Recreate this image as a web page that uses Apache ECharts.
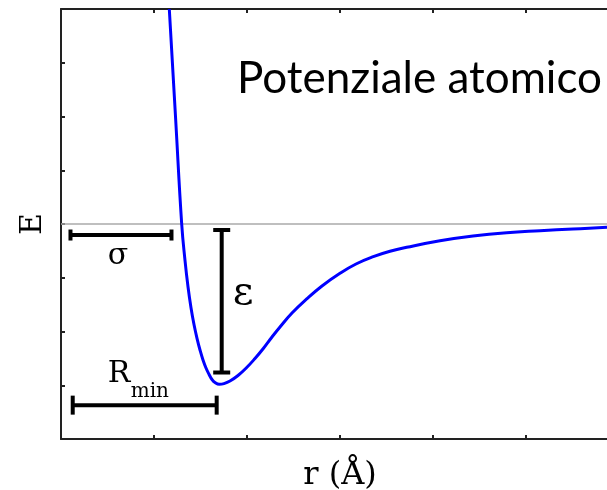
<!DOCTYPE html>
<html>
<head>
<meta charset="utf-8">
<script src="https://cdn.jsdelivr.net/npm/echarts@6/dist/echarts.min.js"></script>
<style>html,body{margin:0;padding:0;background:#fff}#c{width:607px;height:490px}</style>
</head>
<body>
<div id="c"></div>
<script>
// Potential curve (r and E in tick units)
const rValues = [1.1645, 1.2333, 1.2978, 1.3333, 1.3656, 1.3978, 1.4301, 1.4624, 1.4946, 1.5269, 1.5591, 1.5914, 1.6237, 1.6559, 1.7022,
  1.7527, 1.8172, 1.9032, 1.9968, 2.0860, 2.1753, 2.2688, 2.3548, 2.4839, 2.6419, 2.8065, 3.0, 3.172, 3.358, 3.5376, 3.717,
  4.075, 4.430, 4.792, 5.151, 5.505, 5.871];
const eValues = [4.0, 1.935, 0.0, -0.675, -1.1665, -1.557, -1.870, -2.127, -2.344, -2.530, -2.679, -2.796, -2.893, -2.949, -2.982,
  -2.969, -2.921, -2.819, -2.670, -2.502, -2.316, -2.102, -1.916, -1.656, -1.395, -1.153, -0.917, -0.744, -0.608, -0.508, -0.434,
  -0.311, -0.223, -0.162, -0.125, -0.093, -0.061];

// Dimension bars: [x1, y1, x2, y2]
const sigmaBar = [0.102, -0.205, 1.188, -0.205];
const rminBar = [0.126, -3.37, 1.674, -3.37];
const epsBar = [1.728, -0.112, 1.728, -2.763];
const barLabels = ['σ', 'R', 'ε'];

const xTicks = {min: 0, max: 6, interval: 1};
const yTicks = {min: -4, max: 4, interval: 1};

const curve = rValues.map((r, i) => [r, eValues[i]]);
const bars = [sigmaBar, rminBar, epsBar];

const chart = echarts.init(document.getElementById('c'), null, {renderer: 'canvas'});
const serif = '"DejaVu Serif", "Liberation Serif", serif';
const axisStyle = {lineStyle: {color: '#222', width: 2}};
const capHalf = [5.5, 9.5, 8.5];

chart.setOption({
  animation: false,
  backgroundColor: '#fff',
  grid: {left: 61, top: 9, width: 558, height: 430, containLabel: false, outerBoundsMode: 'none'},
  xAxis: [
    {type: 'value', position: 'bottom', min: xTicks.min, max: xTicks.max, interval: xTicks.interval,
     axisLine: Object.assign({show: true, onZero: false}, axisStyle),
     axisTick: {show: true, inside: true, length: 4, lineStyle: {color: '#222', width: 2}},
     axisLabel: {show: false}, splitLine: {show: false},
     name: 'r (Å)', nameLocation: 'middle', nameGap: 21,
     nameTextStyle: {fontFamily: serif, fontSize: 32, color: '#000'}},
    {type: 'value', position: 'top', min: xTicks.min, max: xTicks.max, interval: xTicks.interval,
     axisLine: Object.assign({show: true, onZero: false}, axisStyle),
     axisTick: {show: true, inside: true, length: 4, lineStyle: {color: '#222', width: 2}},
     axisLabel: {show: false}, splitLine: {show: false}}
  ],
  yAxis: [
    {type: 'value', min: yTicks.min, max: yTicks.max, interval: yTicks.interval,
     axisLine: Object.assign({show: true, onZero: false}, axisStyle),
     axisTick: {show: true, inside: true, length: 4, lineStyle: {color: '#222', width: 2}},
     axisLabel: {show: false}, splitLine: {show: false},
     name: 'E', nameLocation: 'middle', nameGap: 13, nameRotate: 90,
     nameTextStyle: {fontFamily: serif, fontSize: 30, color: '#000'}}
  ],
  graphic: [
    {type: 'text', left: 237, top: 57, z: 10,
     style: {text: 'Potenziale atomico', font: '44px Lato', fill: '#000'}}
  ],
  series: [
    {type: 'line', data: curve, showSymbol: false, smooth: 0.45, clip: true,
     lineStyle: {color: '#0000ff', width: 3}, z: 5,
     markLine: {silent: true, symbol: 'none', label: {show: false},
       lineStyle: {color: '#aaaaaa', width: 1.5, type: 'solid'},
       data: [{yAxis: 0}]}},
    {type: 'custom', data: bars, z: 6,
     renderItem: function (params, api) {
       const i = params.dataIndex;
       const p1 = api.coord([api.value(0), api.value(1)]);
       const p2 = api.coord([api.value(2), api.value(3)]);
       const h = capHalf[i];
       const horiz = Math.abs(p1[1] - p2[1]) < 1;
       const st = {stroke: '#000', lineWidth: 4};
       const kids = [
         {type: 'line', shape: {x1: p1[0], y1: p1[1], x2: p2[0], y2: p2[1]}, style: st},
         horiz ? {type: 'line', shape: {x1: p1[0], y1: p1[1] - h, x2: p1[0], y2: p1[1] + h}, style: st}
               : {type: 'line', shape: {x1: p1[0] - h, y1: p1[1], x2: p1[0] + h, y2: p1[1]}, style: st},
         horiz ? {type: 'line', shape: {x1: p2[0], y1: p2[1] - h, x2: p2[0], y2: p2[1] + h}, style: st}
               : {type: 'line', shape: {x1: p2[0] - h, y1: p2[1], x2: p2[0] + h, y2: p2[1]}, style: st}
       ];
       if (i === 0) {
         kids.push({type: 'text', style: {text: barLabels[0], x: (p1[0] + p2[0]) / 2 - 3, y: p1[1] + 21,
           font: '30px ' + serif, fill: '#000', align: 'center', verticalAlign: 'middle'}});
       } else if (i === 1) {
         kids.push({type: 'text', style: {text: barLabels[1], x: p1[0] + 35, y: p1[1] - 31,
           font: '30px ' + serif, fill: '#000', align: 'left', verticalAlign: 'middle'}});
         kids.push({type: 'text', style: {text: 'min', x: p1[0] + 58, y: p1[1] - 13,
           font: '20px ' + serif, fill: '#000', align: 'left', verticalAlign: 'middle'}});
       } else {
         kids.push({type: 'text', style: {text: barLabels[2], x: p1[0] + 11, y: (p1[1] + p2[1]) / 2 - 8,
           font: '40px ' + serif, fill: '#000', align: 'left', verticalAlign: 'middle'}});
       }
       return {type: 'group', children: kids};
     }}
  ]
});
</script>
</body>
</html>
